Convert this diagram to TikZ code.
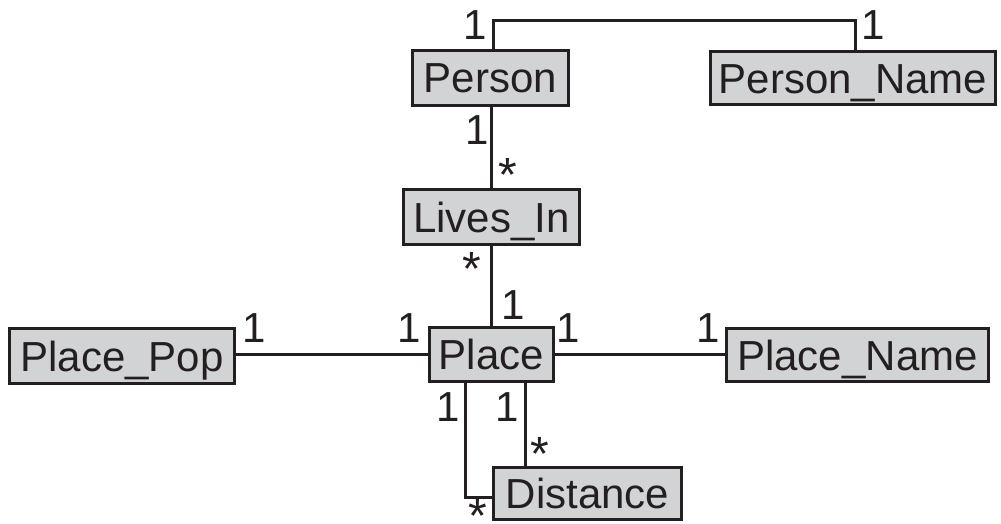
\documentclass[tikz,border=0pt]{standalone}
\usepackage{fontspec}
\setmainfont{Liberation Sans}
\definecolor{boxfill}{RGB}{209,211,212}
\definecolor{ink}{RGB}{35,31,32}
\newcommand{\manymark}{\smash{\raisebox{-23pt}{*}}}
\begin{document}
\begin{tikzpicture}[x=1pt,y=-1pt,
  entity/.style={draw=ink, fill=boxfill, line width=3pt, inner sep=0pt,
    text height=30.5pt, text depth=0pt, font=\fontsize{42}{42}\selectfont, text=ink},
  link/.style={draw=ink, line width=3pt},
  card/.style={inner sep=0pt, font=\fontsize{42}{42}\selectfont, text=ink},
  many/.style={inner sep=0pt, font=\fontsize{48}{48}\selectfont, text=ink}]
\useasboundingbox (0,0) rectangle (1001,523);

\node[entity, minimum width=156pt, minimum height=55pt] (person) at (490.5,77.5) {Person};
\node[entity, minimum width=285pt, minimum height=53pt] (personname) at (853,78) {Person\_Name};
\node[entity, minimum width=176pt, minimum height=55pt] (livesin) at (491.5,217) {Lives\_In};
\node[entity, minimum width=124pt, minimum height=54pt] (place) at (491.5,354.5) {Place};
\node[entity, minimum width=225pt, minimum height=55pt] (placepop) at (122,356) {Place\_Pop};
\node[entity, minimum width=262pt, minimum height=53pt] (placename) at (857.5,355) {Place\_Name};
\node[entity, minimum width=188pt, minimum height=52pt] (distance) at (587.5,493.5) {Distance};

\coordinate (tl) at (493,20);
\coordinate (tr) at (855,20);
\coordinate (dl) at (465,497);
\coordinate (dr) at (525,467);

\draw[link] (person.north -| tl) -- (tl) -- (tr) -- (personname.north -| tr);
\draw[link] (livesin.north) -- (livesin.north |- person.south);
\draw[link] (place.north) -- (livesin.south);
\draw[link] (place.west) -- (place.west -| placepop.east);
\draw[link] (place.east) -- (place.east -| placename.west);
\draw[link] (place.south -| dl) -- (dl) -- (dl -| distance.west);
\draw[link] (place.south -| dr) -- (dr |- distance.north);

\node[card] (c1) at (475,25) {1};
\node[card] (c2) at (873,25) {1};
\node[card] (c3) at (477,130) {1};
\node[many] (c4) at (508,168) {\manymark};
\node[many] (c5) at (472,262) {\manymark};
\node[card] (c6) at (513,305) {1};
\node[card] (c7) at (254,328) {1};
\node[card] (c8) at (409,328) {1};
\node[card] (c9) at (568,328) {1};
\node[card] (c10) at (708,328) {1};
\node[card] (c11) at (448,407) {1};
\node[card] (c12) at (507,407) {1};
\node[many] (c13) at (540,447) {\manymark};
\node[many] (c14) at (478,509) {\manymark};
\end{tikzpicture}
\end{document}
